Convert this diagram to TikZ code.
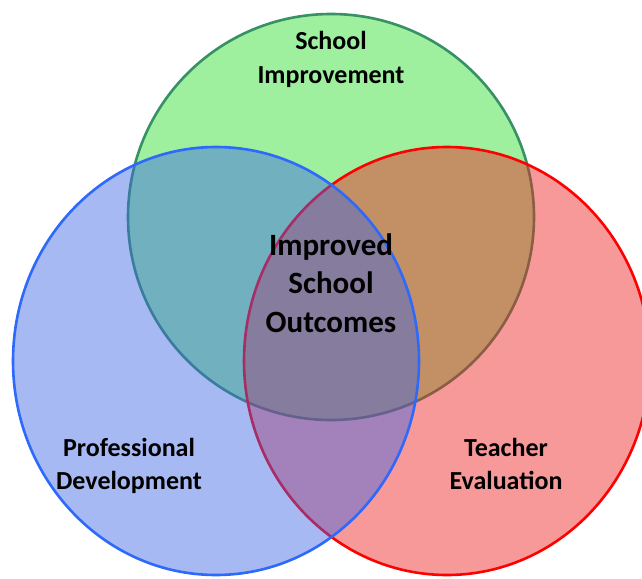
\documentclass[tikz,border=0pt]{standalone}
\usepackage{fontspec}
\setmainfont{Carlito}
\definecolor{gfill}{RGB}{40,220,40}
\definecolor{bfill}{RGB}{60,100,230}
\definecolor{rfill}{RGB}{240,30,30}
\definecolor{gline}{RGB}{55,145,100}
\definecolor{bline}{RGB}{45,105,250}
\definecolor{rline}{RGB}{255,0,0}
\begin{document}
\begin{tikzpicture}[x=1pt,y=-1pt,
  lbl/.style={anchor=base,inner sep=0pt,font=\fontsize{26}{32}\selectfont\bfseries},
  mid/.style={anchor=base,inner sep=0pt,font=\fontsize{31}{38}\selectfont\bfseries},
  set/.style={fill opacity=0.45,line width=2.6pt}]
\useasboundingbox (0,0) rectangle (642,578);
\fill[white] (0,0) rectangle (642,578);
% green: School Improvement
\filldraw[set,fill=gfill,draw=gline,draw opacity=1] (331,217) circle [radius=203pt];
% red: Teacher Evaluation
\filldraw[set,fill=rfill,draw=rline,draw opacity=1] (447,361) ellipse [x radius=203pt,y radius=214pt];
% blue: Professional Development
\filldraw[set,fill=bfill,draw=bline,draw opacity=1] (216,361) ellipse [x radius=203pt,y radius=214pt];
% labels
\node[lbl] (si1) at (331,50) {School};
\node[lbl] (si2) at (331,83) {Improvement};
\node[mid] (io1) at (331,255) {Improved};
\node[mid] (io2) at (331,293) {School};
\node[mid] (io3) at (331,332) {Outcomes};
\node[lbl] (pd1) at (129,456) {Professional};
\node[lbl] (pd2) at (129,489) {Development};
\node[lbl] (te1) at (506,456) {Teacher};
\node[lbl] (te2) at (506,489) {Evaluation};
\end{tikzpicture}
\end{document}
